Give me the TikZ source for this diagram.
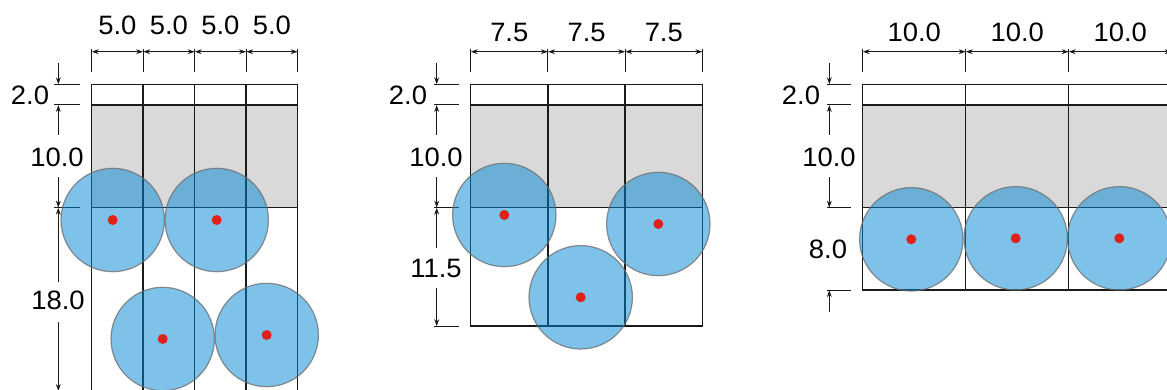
\documentclass[tikz,border=0pt]{standalone}
\usepackage{fontspec}
\setmainfont[FakeStretch=1.03]{Liberation Sans}
\usetikzlibrary{arrows.meta}
\definecolor{gridline}{HTML}{1A1A1A}
\definecolor{slab}{HTML}{D9D9D9}
\definecolor{bar}{RGB}{0,135,213}
\definecolor{dotred}{HTML}{E0201A}
\begin{document}
\begin{tikzpicture}[x=0.5pt,y=-0.5pt,
  gridl/.style={draw=gridline,line width=0.75pt},
  dimline/.style={draw=gridline,line width=0.5pt},
  tip/.style={-{Stealth[length=3.5pt,width=2.4pt]}},
  bothtip/.style={{Stealth[length=3.5pt,width=2.4pt]}-{Stealth[length=3.5pt,width=2.4pt]}},
  dimtxt/.style={inner sep=0pt,font=\fontsize{13.3}{15}\selectfont,text=black},
  bead/.style={fill=bar,fill opacity=0.5,draw=gray!85!black,draw opacity=0.75,line width=0.6pt},
  core/.style={fill=dotred,draw=none}]
\clip (0,0) rectangle (1167,390);
\fill[white] (0,0) rectangle (1167,390);

% ================= Panel 1 =================
\fill[slab] (91.7,105) rectangle (297.7,207.7);
\draw[gridl] (91.7,84.3) rectangle (297.7,393);
\draw[gridl] (91.7,105) -- (297.7,105) (91.7,207.7) -- (297.7,207.7);
\foreach \x in {143.2,194.7,246.2} \draw[gridl] (\x,84.3) -- (\x,393);
% top dimensions
\foreach \x in {91.7,143.2,194.7,246.2,297.7} \draw[dimline] (\x,49) -- (\x,71.7);
\foreach \a/\b in {91.7/143.2,143.2/194.7,194.7/246.2,246.2/297.7}
  \draw[dimline,bothtip] (\a,51.7) -- (\b,51.7);
\node[dimtxt] (p1t1) at (117.4,25) {5.0};
\node[dimtxt] (p1t2) at (168.9,25) {5.0};
\node[dimtxt] (p1t3) at (220.4,25) {5.0};
\node[dimtxt] (p1t4) at (271.9,25) {5.0};
% left dimensions
\foreach \y in {84.3,105,207.7} \draw[dimline] (54,\y) -- (80,\y);
\draw[dimline,tip] (58.3,63) -- (58.3,84.3);
\draw[dimline,tip] (58.3,135) -- (58.3,105);
\draw[dimline,tip] (58.3,177) -- (58.3,207.7);
\draw[dimline,tip] (58.3,282) -- (58.3,207.7);
\draw[dimline,tip] (58.3,322) -- (58.3,391);
\node[dimtxt] (p1l1) at (30,95) {2.0};
\node[dimtxt] (p1l2) at (57,157) {10.0};
\node[dimtxt] (p1l3) at (58,300) {18.0};
% bars
\foreach \cx/\cy in {112.7/220,216.7/220,162.7/339,266.7/335}
  \path[bead] (\cx,\cy) circle[radius=51.7];
\foreach \cx/\cy in {112.7/220,216.7/220,162.7/339,266.7/335}
  \fill[core] (\cx,\cy) circle[radius=5];

% ================= Panel 2 =================
\fill[slab] (470.7,105) rectangle (702.45,207.7);
\draw[gridl] (470.7,84.3) rectangle (702.45,326.2);
\draw[gridl] (470.7,105) -- (702.45,105) (470.7,207.7) -- (702.45,207.7);
\foreach \x in {547.95,625.2} \draw[gridl] (\x,84.3) -- (\x,326.2);
\foreach \x in {470.7,547.95,625.2,702.45} \draw[dimline] (\x,49) -- (\x,71.7);
\foreach \a/\b in {470.7/547.95,547.95/625.2,625.2/702.45}
  \draw[dimline,bothtip] (\a,51.7) -- (\b,51.7);
\node[dimtxt] (p2t1) at (509.3,32) {7.5};
\node[dimtxt] (p2t2) at (586.6,32) {7.5};
\node[dimtxt] (p2t3) at (663.8,32) {7.5};
\foreach \y in {84.3,105,207.7,326.2} \draw[dimline] (434,\y) -- (459,\y);
\draw[dimline,tip] (436.7,63) -- (436.7,84.3);
\draw[dimline,tip] (436.7,135) -- (436.7,105);
\draw[dimline,tip] (436.7,177) -- (436.7,207.7);
\draw[dimline,tip] (436.7,248) -- (436.7,207.7);
\draw[dimline,tip] (436.7,288) -- (436.7,326.2);
\node[dimtxt] (p2l1) at (408,95) {2.0};
\node[dimtxt] (p2l2) at (436,157) {10.0};
\node[dimtxt] (p2l3) at (436,268) {11.5};
\foreach \cx/\cy in {504.3/215,580.7/297.3,658.3/224}
  \path[bead] (\cx,\cy) circle[radius=51.7];
\foreach \cx/\cy in {504.3/215,580.7/297.3,658.3/224}
  \fill[core] (\cx,\cy) circle[radius=5];

% ================= Panel 3 =================
\fill[slab] (862.7,105) rectangle (1171.7,207.7);
\draw[gridl] (862.7,84.3) rectangle (1171.7,290.1);
\draw[gridl] (862.7,105) -- (1171.7,105) (862.7,207.7) -- (1171.7,207.7);
\foreach \x in {965.7,1068.7} \draw[gridl] (\x,84.3) -- (\x,290.1);
\foreach \x in {862.7,965.7,1068.7,1171.7} \draw[dimline] (\x,49) -- (\x,71.7);
\foreach \a/\b in {862.7/965.7,965.7/1068.7,1068.7/1171.7}
  \draw[dimline,bothtip] (\a,51.7) -- (\b,51.7);
\node[dimtxt] (p3t1) at (914.2,32) {10.0};
\node[dimtxt] (p3t2) at (1017.2,32) {10.0};
\node[dimtxt] (p3t3) at (1120.2,32) {10.0};
\foreach \y in {84.3,105,207.7,290.1} \draw[dimline] (826.7,\y) -- (850.7,\y);
\draw[dimline,tip] (829.3,63) -- (829.3,84.3);
\draw[dimline,tip] (829.3,135) -- (829.3,105);
\draw[dimline,tip] (829.3,177) -- (829.3,207.7);
\draw[dimline,tip] (829.3,311.7) -- (829.3,290.1);
\node[dimtxt] (p3l1) at (801,95) {2.0};
\node[dimtxt] (p3l2) at (829,157) {10.0};
\node[dimtxt] (p3l3) at (828,249) {8.0};
\foreach \cx/\cy in {911.3/239.3,1015.7/238.3,1119.3/238.3}
  \path[bead] (\cx,\cy) circle[radius=51.7];
\foreach \cx/\cy in {911.3/239.3,1015.7/238.3,1119.3/238.3}
  \fill[core] (\cx,\cy) circle[radius=5];
\end{tikzpicture}
\end{document}
